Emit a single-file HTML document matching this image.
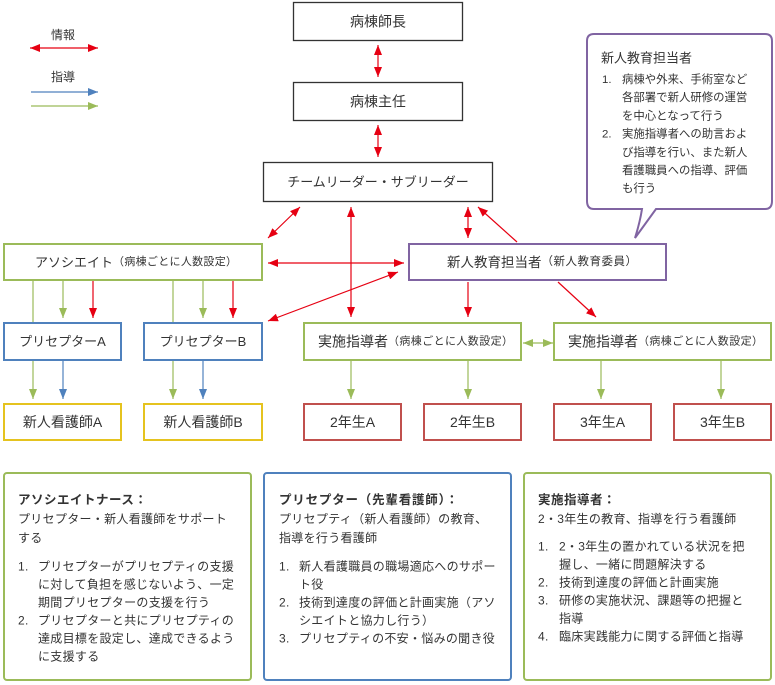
<!DOCTYPE html>
<html><head><meta charset="utf-8">
<style>
html,body{margin:0;padding:0;background:#fff;}
svg{display:block;}
text{font-family:"Liberation Sans","Noto Sans CJK JP",sans-serif;fill:#333;}
</style></head>
<body>
<svg width="775" height="685" viewBox="0 0 775 685" xmlns="http://www.w3.org/2000/svg">
<defs>
<marker id="r" viewBox="0 0 10 8" refX="10" refY="4" markerWidth="10" markerHeight="8" markerUnits="userSpaceOnUse" orient="auto-start-reverse"><path d="M0,0L10,4L0,8z" fill="#e60012"/></marker>
<marker id="g" viewBox="0 0 10 8" refX="10" refY="4" markerWidth="10" markerHeight="8" markerUnits="userSpaceOnUse" orient="auto-start-reverse"><path d="M0,0L10,4L0,8z" fill="#9bbb59"/></marker>
<marker id="b" viewBox="0 0 10 8" refX="10" refY="4" markerWidth="10" markerHeight="8" markerUnits="userSpaceOnUse" orient="auto-start-reverse"><path d="M0,0L10,4L0,8z" fill="#4f81bd"/></marker>
</defs>

<!-- Legend -->
<text x="63" y="35" font-size="12" text-anchor="middle" dominant-baseline="central">情報</text>
<line x1="30" y1="48" x2="98" y2="48" stroke="#e60012" stroke-width="1.2" marker-start="url(#r)" marker-end="url(#r)"/>
<text x="63" y="77" font-size="12" text-anchor="middle" dominant-baseline="central">指導</text>
<line x1="31" y1="92" x2="98" y2="92" stroke="#4f81bd" stroke-width="1.2" marker-end="url(#b)"/>
<line x1="31" y1="106" x2="98" y2="106" stroke="#9bbb59" stroke-width="1.2" marker-end="url(#g)"/>

<!-- Top boxes -->
<rect x="293.5" y="2.5" width="169" height="38" fill="#fff" stroke="#333" stroke-width="1.3"/>
<text x="378" y="21.5" font-size="14" text-anchor="middle" dominant-baseline="central">病棟師長</text>
<rect x="293.5" y="82.5" width="169" height="38" fill="#fff" stroke="#333" stroke-width="1.3"/>
<text x="378" y="101.5" font-size="14" text-anchor="middle" dominant-baseline="central">病棟主任</text>
<rect x="263.5" y="162.5" width="229" height="39" fill="#fff" stroke="#333" stroke-width="1.3"/>
<text x="378" y="182" font-size="13" text-anchor="middle" dominant-baseline="central">チームリーダー・サブリーダー</text>

<!-- Red connectors -->
<line x1="378" y1="45" x2="378" y2="77" stroke="#e60012" stroke-width="1.2" marker-start="url(#r)" marker-end="url(#r)"/>
<line x1="378" y1="125" x2="378" y2="157" stroke="#e60012" stroke-width="1.2" marker-start="url(#r)" marker-end="url(#r)"/>
<line x1="300" y1="207" x2="268" y2="238" stroke="#e60012" stroke-width="1.2" marker-start="url(#r)" marker-end="url(#r)"/>
<line x1="351" y1="207" x2="351" y2="317" stroke="#e60012" stroke-width="1.2" marker-start="url(#r)" marker-end="url(#r)"/>
<line x1="468" y1="207" x2="468" y2="238" stroke="#e60012" stroke-width="1.2" marker-start="url(#r)" marker-end="url(#r)"/>
<line x1="517" y1="242" x2="478" y2="207" stroke="#e60012" stroke-width="1.2" marker-end="url(#r)"/>
<line x1="268" y1="263" x2="404" y2="263" stroke="#e60012" stroke-width="1.2" marker-start="url(#r)" marker-end="url(#r)"/>
<line x1="398" y1="272" x2="268" y2="321" stroke="#e60012" stroke-width="1.2" marker-start="url(#r)" marker-end="url(#r)"/>
<line x1="468" y1="282" x2="468" y2="317" stroke="#e60012" stroke-width="1.2" marker-end="url(#r)"/>
<line x1="558" y1="282" x2="596" y2="317" stroke="#e60012" stroke-width="1.2" marker-end="url(#r)"/>

<!-- Assoc downward -->
<line x1="33" y1="281" x2="33" y2="322" stroke="#9bbb59" stroke-width="1.2"/>
<line x1="63" y1="281" x2="63" y2="318" stroke="#9bbb59" stroke-width="1.2" marker-end="url(#g)"/>
<line x1="93" y1="281" x2="93" y2="318" stroke="#e60012" stroke-width="1.2" marker-end="url(#r)"/>
<line x1="173" y1="281" x2="173" y2="322" stroke="#9bbb59" stroke-width="1.2"/>
<line x1="203" y1="281" x2="203" y2="318" stroke="#9bbb59" stroke-width="1.2" marker-end="url(#g)"/>
<line x1="233" y1="281" x2="233" y2="318" stroke="#e60012" stroke-width="1.2" marker-end="url(#r)"/>

<!-- Row 3 downward -->
<line x1="33" y1="361" x2="33" y2="399" stroke="#9bbb59" stroke-width="1.2" marker-end="url(#g)"/>
<line x1="63" y1="361" x2="63" y2="399" stroke="#4f81bd" stroke-width="1.2" marker-end="url(#b)"/>
<line x1="173" y1="361" x2="173" y2="399" stroke="#9bbb59" stroke-width="1.2" marker-end="url(#g)"/>
<line x1="203" y1="361" x2="203" y2="399" stroke="#4f81bd" stroke-width="1.2" marker-end="url(#b)"/>
<line x1="351" y1="361" x2="351" y2="399" stroke="#9bbb59" stroke-width="1.2" marker-end="url(#g)"/>
<line x1="468" y1="361" x2="468" y2="399" stroke="#9bbb59" stroke-width="1.2" marker-end="url(#g)"/>
<line x1="601" y1="361" x2="601" y2="399" stroke="#9bbb59" stroke-width="1.2" marker-end="url(#g)"/>
<line x1="721" y1="361" x2="721" y2="399" stroke="#9bbb59" stroke-width="1.2" marker-end="url(#g)"/>
<line x1="523" y1="343" x2="553" y2="343" stroke="#9bbb59" stroke-width="1.2" marker-start="url(#g)" marker-end="url(#g)"/>

<!-- Row 2 boxes -->
<rect x="4" y="244" width="258" height="36" fill="#fff" stroke="#9bbb59" stroke-width="2"/>
<text x="35" y="262" dominant-baseline="central"><tspan font-size="13">アソシエイト</tspan><tspan font-size="11" letter-spacing="0.3">（病棟ごとに人数設定）</tspan></text>
<rect x="409" y="244" width="257" height="36" fill="#fff" stroke="#8064a2" stroke-width="2"/>
<text x="447" y="262" dominant-baseline="central"><tspan font-size="13.5">新人教育担当者</tspan><tspan font-size="11.5" letter-spacing="0.5">（新人教育委員）</tspan></text>

<!-- Row 3 boxes -->
<rect x="4" y="323" width="117" height="37" fill="#fff" stroke="#4f81bd" stroke-width="2"/>
<text x="62.5" y="341.5" font-size="13" text-anchor="middle" dominant-baseline="central">プリセプターA</text>
<rect x="144" y="323" width="118" height="37" fill="#fff" stroke="#4f81bd" stroke-width="2"/>
<text x="203" y="341.5" font-size="13" text-anchor="middle" dominant-baseline="central">プリセプターB</text>
<rect x="304" y="323" width="217" height="37" fill="#fff" stroke="#9bbb59" stroke-width="2"/>
<text x="318" y="341.5" dominant-baseline="central"><tspan font-size="14">実施指導者</tspan><tspan font-size="11" letter-spacing="0.4">（病棟ごとに人数設定）</tspan></text>
<rect x="554" y="323" width="217" height="37" fill="#fff" stroke="#9bbb59" stroke-width="2"/>
<text x="568" y="341.5" dominant-baseline="central"><tspan font-size="14">実施指導者</tspan><tspan font-size="11" letter-spacing="0.4">（病棟ごとに人数設定）</tspan></text>

<!-- Row 4 boxes -->
<rect x="4" y="404" width="117" height="36" fill="#fff" stroke="#e5c31f" stroke-width="2"/>
<text x="62.5" y="422" font-size="14" text-anchor="middle" dominant-baseline="central">新人看護師A</text>
<rect x="144" y="404" width="118" height="36" fill="#fff" stroke="#e5c31f" stroke-width="2"/>
<text x="203" y="422" font-size="14" text-anchor="middle" dominant-baseline="central">新人看護師B</text>
<rect x="304" y="404" width="97" height="36" fill="#fff" stroke="#c0504d" stroke-width="2"/>
<text x="352.5" y="422" font-size="14" text-anchor="middle" dominant-baseline="central">2年生A</text>
<rect x="424" y="404" width="97" height="36" fill="#fff" stroke="#c0504d" stroke-width="2"/>
<text x="472.5" y="422" font-size="14" text-anchor="middle" dominant-baseline="central">2年生B</text>
<rect x="554" y="404" width="97" height="36" fill="#fff" stroke="#c0504d" stroke-width="2"/>
<text x="602.5" y="422" font-size="14" text-anchor="middle" dominant-baseline="central">3年生A</text>
<rect x="674" y="404" width="97" height="36" fill="#fff" stroke="#c0504d" stroke-width="2"/>
<text x="722.5" y="422" font-size="14" text-anchor="middle" dominant-baseline="central">3年生B</text>

<!-- Callout -->
<path d="M594,34 H765 Q772,34 772,41 V201 Q772,209 765,209 H656 L635,238 Q640,222 642,209 H594 Q587,209 587,201 V41 Q587,34 594,34 Z" fill="#fff" stroke="#8064a2" stroke-width="2"/>
<text x="601" y="58" font-size="13" dominant-baseline="central">新人教育担当者</text>
<g font-size="11.4">
<text x="602" y="80" dominant-baseline="central">1.</text>
<text x="622" y="80" dominant-baseline="central">病棟や外来、手術室など</text>
<text x="622" y="98.2" dominant-baseline="central">各部署で新人研修の運営</text>
<text x="622" y="116.4" dominant-baseline="central">を中心となって行う</text>
<text x="602" y="134.6" dominant-baseline="central">2.</text>
<text x="622" y="134.6" dominant-baseline="central">実施指導者への助言およ</text>
<text x="622" y="152.8" dominant-baseline="central">び指導を行い、また新人</text>
<text x="622" y="171" dominant-baseline="central">看護職員への指導、評価</text>
<text x="622" y="189.2" dominant-baseline="central">も行う</text>
</g>

<!-- Bottom panels -->
<rect x="4" y="473" width="247" height="207" rx="3" fill="#fff" stroke="#9bbb59" stroke-width="2"/>
<rect x="264" y="473" width="247" height="207" rx="3" fill="#fff" stroke="#4f81bd" stroke-width="2"/>
<rect x="524" y="473" width="247" height="207" rx="3" fill="#fff" stroke="#9bbb59" stroke-width="2"/>

<g font-size="12" letter-spacing="0.3">
<text x="18" y="500" font-size="12.5" font-weight="bold" letter-spacing="0.5" dominant-baseline="central">アソシエイトナース：</text>
<text x="18" y="519" dominant-baseline="central">プリセプター・新人看護師をサポート</text>
<text x="18" y="538" dominant-baseline="central">する</text>
<text x="18" y="566.5" dominant-baseline="central">1.</text>
<text x="38" y="566.5" dominant-baseline="central">プリセプターがプリセプティの支援</text>
<text x="38" y="584.5" dominant-baseline="central">に対して負担を感じないよう、一定</text>
<text x="38" y="602.5" dominant-baseline="central">期間プリセプターの支援を行う</text>
<text x="18" y="620.5" dominant-baseline="central">2.</text>
<text x="38" y="620.5" dominant-baseline="central">プリセプターと共にプリセプティの</text>
<text x="38" y="638.5" dominant-baseline="central">達成目標を設定し、達成できるよう</text>
<text x="38" y="656.5" dominant-baseline="central">に支援する</text>

<text x="279" y="500" font-size="12.5" font-weight="bold" letter-spacing="0.8" dominant-baseline="central">プリセプター（先輩看護師）：</text>
<text x="279" y="519" dominant-baseline="central">プリセプティ（新人看護師）の教育、</text>
<text x="279" y="538" dominant-baseline="central">指導を行う看護師</text>
<text x="279" y="566.5" dominant-baseline="central">1.</text>
<text x="299" y="566.5" dominant-baseline="central">新人看護職員の職場適応へのサポー</text>
<text x="299" y="584.5" dominant-baseline="central">ト役</text>
<text x="279" y="602.5" dominant-baseline="central">2.</text>
<text x="299" y="602.5" dominant-baseline="central">技術到達度の評価と計画実施（アソ</text>
<text x="299" y="620.5" dominant-baseline="central">シエイトと協力し行う）</text>
<text x="279" y="638.5" dominant-baseline="central">3.</text>
<text x="299" y="638.5" dominant-baseline="central">プリセプティの不安・悩みの聞き役</text>

<text x="538" y="500" font-size="12.5" font-weight="bold" letter-spacing="0.5" dominant-baseline="central">実施指導者：</text>
<text x="538" y="519" dominant-baseline="central">2・3年生の教育、指導を行う看護師</text>
<text x="538" y="546.5" dominant-baseline="central">1.</text>
<text x="559" y="546.5" dominant-baseline="central">2・3年生の置かれている状況を把</text>
<text x="559" y="564.5" dominant-baseline="central">握し、一緒に問題解決する</text>
<text x="538" y="582.5" dominant-baseline="central">2.</text>
<text x="559" y="582.5" dominant-baseline="central">技術到達度の評価と計画実施</text>
<text x="538" y="600.5" dominant-baseline="central">3.</text>
<text x="559" y="600.5" dominant-baseline="central">研修の実施状況、課題等の把握と</text>
<text x="559" y="618.5" dominant-baseline="central">指導</text>
<text x="538" y="636.5" dominant-baseline="central">4.</text>
<text x="559" y="636.5" dominant-baseline="central">臨床実践能力に関する評価と指導</text>
</g>
</svg>
</body></html>
